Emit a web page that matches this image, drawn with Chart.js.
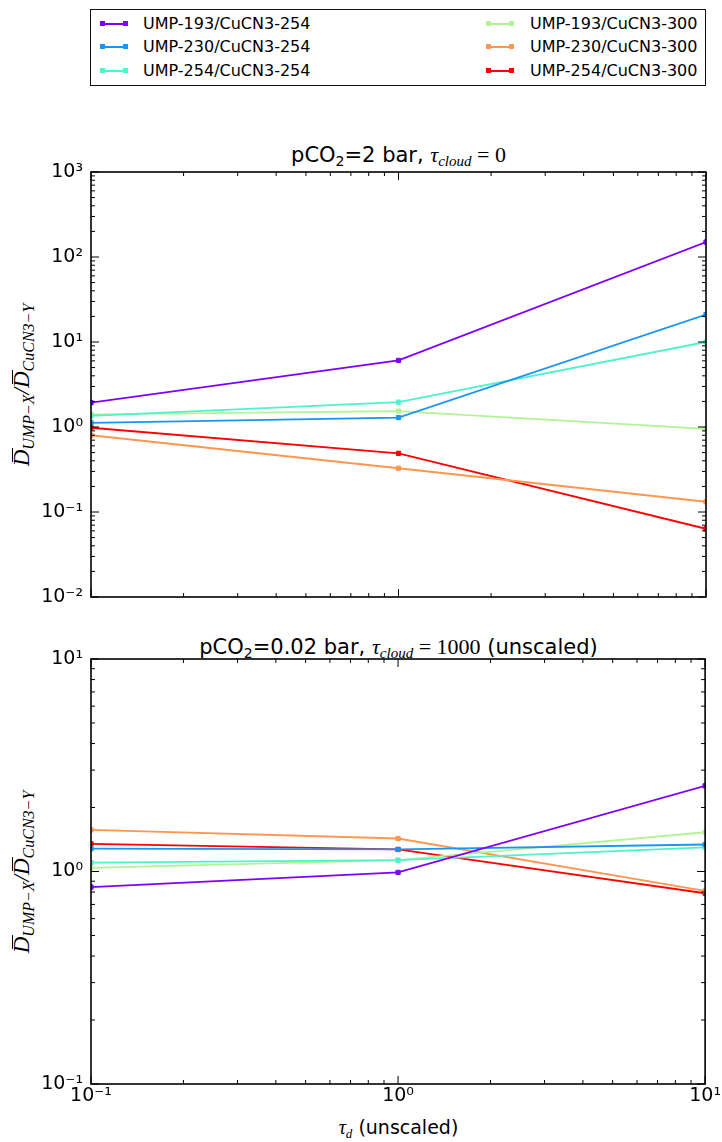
<!DOCTYPE html>
<html>
<head>
<meta charset="utf-8">
<script src="https://cdn.jsdelivr.net/npm/chart.js@4/dist/chart.umd.min.js"></script>
<style>
  body { margin: 0; width: 722px; height: 1142px; background: #fff; position: relative; overflow: hidden; font-family: "DejaVu Sans", sans-serif; color: #000; }
  canvas { position: absolute; left: 0; }
  #legend { position: absolute; left: 90px; top: 9px; width: 614px; height: 75px; border: 1.5px solid #111; }
  .entry { position: absolute; height: 16px; line-height: 16px; font-size: 16px; white-space: nowrap; }
  .sample { position: absolute; top: 7px; height: 2px; width: 26px; }
  .sample::before, .sample::after { content: ""; position: absolute; top: -2px; width: 5px; height: 5px; background: inherit; }
  .sample::before { left: -1px; }
  .sample::after { right: -1px; }
  .title { position: absolute; left: 91px; width: 615px; text-align: center; font-size: 21px; line-height: 21px; white-space: nowrap; }
  .title sub { font-size: 14px; vertical-align: -4px; line-height: 0; }
  .math { font-family: "Liberation Serif", "DejaVu Serif", serif; font-size: 22px; }
  .math i sub { font-size: 15px; }
  .ylabel { position: absolute; width: 300px; height: 30px; line-height: 30px; text-align: center; white-space: nowrap; transform: rotate(-90deg); transform-origin: 150px 15px; font-family: "Liberation Serif", "DejaVu Serif", serif; font-size: 23px; font-style: italic; }
  .ylabel sub { font-size: 16px; vertical-align: -5px; line-height: 0; }
  .bar { display: inline-block; position: relative; line-height: 30px; }
  .bar::before { content: ""; position: absolute; left: 4px; width: 14px; top: 5px; border-top: 1.5px solid #000; }
  #xlabel { position: absolute; left: 91px; width: 615px; top: 1118px; text-align: center; font-size: 19px; line-height: 19px; }
  #xlabel sub { font-size: 13px; vertical-align: -4px; line-height: 0; }
</style>
</head>
<body>
<div id="legend"></div>

<div class="title" style="top:144px">pCO<sub>2</sub>=2 bar, <span class="math"><i>τ<sub>cloud</sub></i> = 0</span></div>
<div class="title" style="top:636px">pCO<sub>2</sub>=0.02 bar, <span class="math"><i>τ<sub>cloud</sub></i> = 1000</span> (unscaled)</div>

<div class="ylabel" style="left:-128px; top:370px"><span class="bar">D</span><sub>UMP−X</sub>/<span class="bar">D</span><sub>CuCN3−Y</sub></div>
<div class="ylabel" style="left:-128px; top:857px"><span class="bar">D</span><sub>UMP−X</sub>/<span class="bar">D</span><sub>CuCN3−Y</sub></div>

<div id="xlabel"><span class="math" style="font-size:20px"><i>τ<sub>d</sub></i></span> (unscaled)</div>

<canvas id="topChart" width="722" height="500" style="top:120px"></canvas>
<canvas id="bottomChart" width="722" height="522" style="top:620px"></canvas>

<script>
// tau_d values (x axis)
const tauD = [0.1, 1, 10];

const seriesLabels = [
    "UMP-193/CuCN3-254", "UMP-230/CuCN3-254", "UMP-254/CuCN3-254",
    "UMP-193/CuCN3-300", "UMP-230/CuCN3-300", "UMP-254/CuCN3-300"
];
const seriesColors = ["#8000ff", "#1996f3", "#4df3ce", "#b2f396", "#ff964f", "#ff0000"];

// pCO2 = 2 bar, tau_cloud = 0
const top193_254 = [1.93, 6.07, 150];
const top230_254 = [1.12, 1.29, 21];
const top254_254 = [1.35, 1.96, 10.0];
const top193_300 = [1.41, 1.54, 0.95];
const top230_300 = [0.80, 0.327, 0.132];
const top254_300 = [0.98, 0.49, 0.0635];

// pCO2 = 0.02 bar, tau_cloud = 1000
const bot193_254 = [0.845, 0.99, 2.53];
const bot230_254 = [1.28, 1.27, 1.34];
const bot254_254 = [1.10, 1.13, 1.30];
const bot193_300 = [1.04, 1.13, 1.53];
const bot230_300 = [1.57, 1.43, 0.81];
const bot254_300 = [1.35, 1.27, 0.79];

const topTicks = [0.01, 0.1, 1, 10, 100, 1000];
const bottomTicks = [0.1, 1, 10];
const xTicks = [0.1, 1, 10];

Chart.defaults.font.family = "DejaVu Sans";
Chart.defaults.color = "#000";

// legend (html box above the plots)
const legendBox = document.getElementById("legend");
seriesLabels.forEach((label, i) => {
    const col = Math.floor(i / 3), row = i % 3;
    const e = document.createElement("div");
    e.className = "entry";
    e.style.top = (6 + row * 23.3) + "px";
    e.style.left = (col === 0 ? 10 : 396) + "px";
    const s = document.createElement("span");
    s.className = "sample";
    s.style.background = seriesColors[i];
    s.style.left = "0px";
    const t = document.createElement("span");
    t.textContent = label;
    t.style.position = "absolute";
    t.style.left = (col === 0 ? 42 : 43) + "px";
    e.appendChild(s);
    e.appendChild(t);
    legendBox.appendChild(e);
});

const sup = { "-": "⁻", "0": "⁰", "1": "¹", "2": "²", "3": "³" };
function powLabel(v) {
    const e = String(Math.round(Math.log10(v)));
    return "10" + e.split("").map(c => sup[c]).join("");
}

// inward major/minor ticks on all four sides plus the frame
const frameTicks = {
    id: "frameTicks",
    afterDatasetsDraw(chart) {
        const { ctx, chartArea: a, scales } = chart;
        ctx.save();
        ctx.strokeStyle = "#000";
        ctx.lineWidth = 1;
        function each(scale, fn) {
            const lo = Math.floor(Math.log10(scale.min)), hi = Math.ceil(Math.log10(scale.max));
            for (let p = lo; p <= hi; p++) {
                for (let k = 1; k < 10; k++) {
                    const v = k * Math.pow(10, p);
                    if (v < scale.min * 0.999 || v > scale.max * 1.001) continue;
                    fn(scale.getPixelForValue(v), k === 1 ? 8 : 4);
                }
            }
        }
        ctx.beginPath();
        each(scales.x, (px, len) => {
            ctx.moveTo(px, a.bottom); ctx.lineTo(px, a.bottom - len);
            ctx.moveTo(px, a.top); ctx.lineTo(px, a.top + len);
        });
        each(scales.y, (py, len) => {
            ctx.moveTo(a.left, py); ctx.lineTo(a.left + len, py);
            ctx.moveTo(a.right, py); ctx.lineTo(a.right - len, py);
        });
        ctx.stroke();
        ctx.lineWidth = 1.6;
        ctx.strokeRect(a.left, a.top, a.right - a.left, a.bottom - a.top);
        ctx.restore();
    }
};

function makeDatasets(seriesList) {
    return seriesList.map((vals, i) => ({
        label: seriesLabels[i],
        data: vals.map((v, j) => ({ x: tauD[j], y: v })),
        borderColor: seriesColors[i],
        backgroundColor: seriesColors[i],
        borderWidth: 1.8,
        pointStyle: "rect",
        pointRadius: 3,
        pointBorderWidth: 1,
        tension: 0
    }));
}

function makeChart(id, seriesList, yMin, yMax, yTicks, opts) {
    return new Chart(document.getElementById(id), {
        type: "line",
        data: { datasets: makeDatasets(seriesList) },
        options: {
            responsive: false,
            animation: false,
            layout: { padding: { left: 0, right: 16, top: opts.top, bottom: 0 } },
            plugins: { legend: { display: false }, tooltip: { enabled: false } },
            scales: {
                x: {
                    type: "logarithmic",
                    min: 0.1, max: 10,
                    grid: { display: false, drawTicks: false },
                    border: { display: false },
                    afterBuildTicks: s => { s.ticks = xTicks.map(v => ({ value: v })); },
                    afterFit: s => { s.height = opts.xHeight; },
                    ticks: {
                        display: opts.xLabels,
                        autoSkip: false, maxRotation: 0,
                        padding: 1,
                        font: { size: 19 },
                        callback: v => powLabel(v)
                    }
                },
                y: {
                    type: "logarithmic",
                    min: yMin, max: yMax,
                    grid: { display: false, drawTicks: false },
                    border: { display: false },
                    afterBuildTicks: s => { s.ticks = yTicks.map(v => ({ value: v })); },
                    afterFit: s => { s.width = 91; },
                    ticks: {
                        autoSkip: false,
                        padding: 8,
                        font: { size: 19 },
                        callback: v => powLabel(v)
                    }
                }
            }
        },
        plugins: [frameTicks]
    });
}

makeChart("topChart",
    [top193_254, top230_254, top254_254, top193_300, top230_300, top254_300],
    0.01, 1000, topTicks, { top: 52, xHeight: 23, xLabels: false });

makeChart("bottomChart",
    [bot193_254, bot230_254, bot254_254, bot193_300, bot230_300, bot254_300],
    0.1, 10, bottomTicks, { top: 39, xHeight: 58, xLabels: true });
</script>
</body>
</html>
